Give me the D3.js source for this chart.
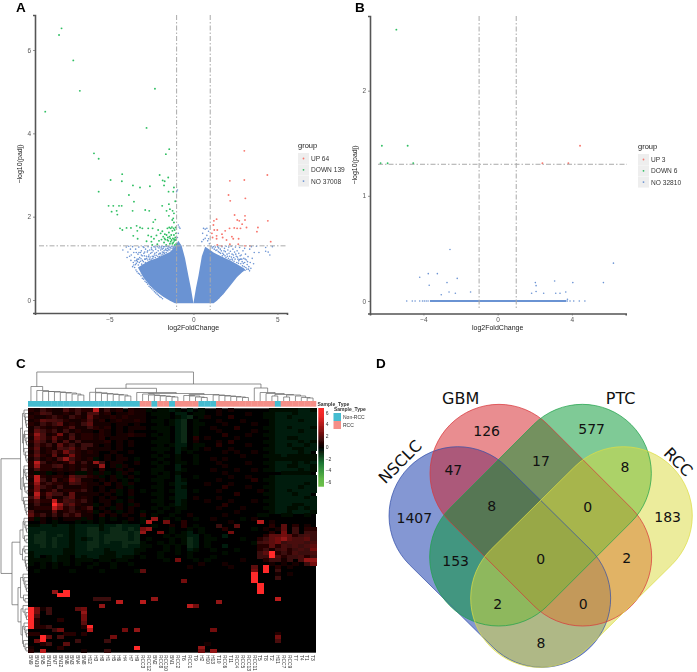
<!DOCTYPE html>
<html><head><meta charset="utf-8">
<script src="https://cdn.jsdelivr.net/npm/d3@7"></script>
<style>html,body{margin:0;padding:0;background:#fff}svg{display:block}text{font-family:"Liberation Sans",Arial,sans-serif}</style>
</head><body><svg id="c" width="697" height="672"></svg>
<script>
// ---------- volcano A ----------
const aDown=[[-7.85,6.52],[-8,6.36],[-7.15,5.75],[-6.76,5.02],[-8.82,4.52],[-2.29,5.07],[-2.79,4.13],[-1.44,3.62],[-1.64,3.5],[-5.92,3.52],[-5.64,3.39],[-4.24,3.02],[-4.93,2.88],[-4.26,2.85],[-3.6,2.75],[-3.18,2.7],[-2.59,2.73],[-2.01,3],[-1.83,2.87],[-1.71,2.85],[-1.5,2.94],[-1.75,2.75],[-1.48,2.6],[-1.2,2.6],[-1.16,2.7],[-5.64,2.6],[-3.84,2.52],[-3.54,2.36],[-3.62,2.14],[-5.05,2.26],[-4.77,2.26],[-4.43,2.26],[-4.27,2.26],[-4.87,2.12],[-4.57,2.14],[-4.53,2.05],[-2.87,2.16],[-2.63,2.14],[-1.46,2.3],[-1.08,2.37],[-1.86,2.26],[-1.6,2.14],[-1.4,2.18],[-1.24,2.14],[-1.16,2.08],[-1.46,2.02],[-1.2,1.96],[-1.26,1.92],[-1.16,1.86],[-2.27,1.93],[-2.39,1.87],[-3.38,1.78],[-4.37,1.72],[-4.23,1.68],[-3.98,1.73],[-3.72,1.73],[-3.34,1.66],[-3.18,1.74],[-3.04,1.72],[-2.69,1.72],[-2.43,1.72],[-3.58,1.54],[-3.32,1.47],[-2.69,1.55],[-2.51,1.52],[-2.35,1.47],[-2.79,1.41],[-2.5,1.4],[-2.45,1.32],[-2.2,1.55],[-2.05,1.42],[-1.95,1.6],[-1.9,1.45],[-1.85,1.65],[-1.8,1.52],[-1.75,1.38],[-1.7,1.58],[-1.68,1.45],[-1.62,1.32],[-1.55,1.72],[-1.52,1.5],[-1.5,1.42],[-1.46,1.62],[-1.44,1.74],[-1.4,1.35],[-1.38,1.48],[-1.35,1.72],[-1.32,1.56],[-1.3,1.44],[-1.28,1.75],[-1.25,1.66],[-1.22,1.48],[-1.2,1.38],[-1.18,1.72],[-1.16,1.56],[-1.14,1.42],[-1.12,1.68],[-1.1,1.32],[-1.08,1.5],[-1.06,1.74],[-1.05,1.44],[-1.04,1.6],[-1.02,1.35],[-1.55,1.44],[-1.6,1.56],[-1.72,1.48],[-2.1,1.68],[-2.15,1.34],[-1.35,1.4],[-1.25,1.35],[-1.15,1.46],[-1.42,1.52]];
const aUp=[[3.03,3.58],[4.4,3],[3.03,2.88],[2.17,2.86],[2.09,2.52],[2.19,2.38],[3.09,2.44],[2.45,2.04],[3.07,2.02],[2.61,1.92],[2.73,1.9],[3.07,1.92],[4.43,1.9],[3.84,1.74],[3.78,1.64],[4.6,1.4],[2.15,1.72],[1.89,1.66],[2.43,1.73],[2.6,1.72],[2.8,1.72],[3.16,1.74],[2.9,1.82],[1.38,1.94],[1.22,1.9],[1.19,1.8],[1.24,1.68],[1.42,1.68],[1.1,1.6],[1.14,1.5],[1.38,1.54],[1.38,1.47],[1.7,1.58],[1.74,1.5],[1.97,1.44],[2.29,1.52],[2.37,1.47],[2.69,1.47],[2.17,1.34],[1.42,1.32],[2.67,1.34],[3.07,1.3],[3.36,1.3],[1.68,1.3]];
const aNo=[[-.95,2.64],[-1,2.6],[-.9,1.8],[-.85,1.75],[-.8,1.72],[-.95,1.5],[-.9,1.6],[.6,1.72],[.7,1.7],[.8,1.72],[.9,1.65],[.55,1.6],[.6,1.45],[.7,1.48],[.9,1.47],[.95,1.35],[.5,1.4],[.8,1.55],[.85,1.42],
[-4.2,1.2],[-4,1.27],[-3.9,1.15],[-3.85,1.29],[-3.75,1.22],[-3.7,1.08],[-3.62,1.28],[-3.55,1.14],[-3.5,1.02],[-3.44,1.22],[-3.38,.95],[-3.3,1.1],[-3.25,1.27],[-3.2,1.02],[-3.15,.93],[-3.1,1.18],[-3.05,1.06],[-3,1.28],[-2.95,1.12],[-2.9,.98],[-2.85,1.22],[-2.8,1.05],[-2.75,1.15],[-2.7,1.28],[-2.65,1.08],[-2.6,1.2],[-2.55,1.12],[-2.5,1.25],[-2.45,1.05],[-2.4,1.18],[-2.35,1.28],[-2.3,1.12],[-2.25,1.22],[-2.2,1.14],[-2.15,1.28],[-2.1,1.18],[-2.05,1.25],[-2,1.12],[-1.95,1.2],[-1.9,1.29],[-1.85,1.15],[-1.8,1.24],[-1.75,1.18],[-1.7,1.28],[-1.65,1.22],[-1.6,1.29],[-1.55,1.24],[-1.5,1.28],[-3.45,.85],[-3.58,.9],[-3.72,.95],[-3.4,1.14],[-3.08,.86],[-2.86,.9],[-2.62,.98],[-2.42,1.0],[-3.28,.84],[-3.15,1.14],[-2.95,1.26],[-3.8,1.05],[-3.95,1.02],[-3.35,.98],
[-3.5,.78],[-3.42,.72],[-3.36,.68],[-3.28,.64],[-3.2,.62],[-3.12,.58],[-3.04,.52],[-2.96,.5],[-2.88,.45],[-2.8,.42],[-2.72,.38],[-2.64,.33],[-2.56,.3],[-2.48,.27],[-2.4,.24],[-2.32,.2],[-2.24,.17],[-2.16,.14],[-2.08,.11],[-2,.08],[-1.92,.06],[-1.84,.03],
[-3.62,.8],[-3.55,.84],[-3.48,.94],[-3.4,.88],[-3.33,.92],[-3.26,.98],[-3.22,.9],[-3.12,.99],[-3.04,.95],[-2.98,.92],[-2.92,1.06],[-2.84,.98],[-2.78,1.0],[-2.72,.96],[-2.68,1.04],[-2.58,1.03],[-2.52,.98],[-2.47,1.14],[-2.38,1.04],[-2.33,1.08],[-2.27,1.02],[-2.22,1.07],[-2.12,1.05],[-2.06,1.1],[-2.02,1.04],[-1.96,1.12],[-1.92,1.08],[-1.86,1.22],[-1.82,1.1],[-1.77,1.14],[-1.72,1.12],[-1.68,1.2],[-1.62,1.14],[-1.58,1.19],[-1.52,1.18],[-1.47,1.22],[-1.44,1.27],[-1.4,1.2],[-1.36,1.25],[-1.32,1.29],[-1.27,1.24],[-1.22,1.28],[-1.18,1.25],[-1.14,1.29],[-2.48,1.21],[-2.72,1.18],[-2.9,1.15],[-3.1,1.08],[-3.24,1.14],[-2.28,1.27],[-2.02,1.29],[-1.78,1.28],[-1.92,1.25],
[1.3,1.27],[1.4,1.2],[1.5,1.25],[1.6,1.22],[1.7,1.28],[1.75,1.12],[1.85,1.24],[1.9,1.16],[1.95,1.29],[2,1.1],[2.05,1.2],[2.1,1.27],[2.15,1.05],[2.2,1.17],[2.25,1.29],[2.3,1.1],[2.35,1.22],[2.4,1.02],[2.45,1.15],[2.5,1.27],[2.55,1.05],[2.6,1.18],[2.65,.98],[2.7,1.12],[2.75,1.26],[2.8,.98],[2.85,1.08],[2.9,.92],[2.95,1.18],[3,1],[3.05,.9],[3.1,1.1],[3.15,.96],[3.2,.85],[3.25,1.04],[3.3,.8],[3.05,1.24],[3.35,1.22],[3.45,1.28],[3.58,.87],[3.62,1.14],[3.75,1.29],[3.9,1.14],[4.3,1.17],[4.45,1.15],[4.55,1.08],[4.7,1.28],[4.3,1.26],[3.5,1.0],[2.3,.98],[2.7,.94],
[1.05,1.29],[1.12,1.25],[1.18,1.28],[1.24,1.22],[1.34,1.19],[1.44,1.28],[1.48,1.16],[1.55,1.14],[1.62,1.12],[1.66,1.18],[1.72,1.06],[1.8,1.09],[1.82,1.18],[1.88,1.06],[1.94,1.02],[2.02,1.05],[2.08,1.0],[2.12,1.12],[2.18,.97],[2.26,1.03],[2.32,.96],[2.38,1.08],[2.42,.93],[2.48,.98],[2.52,1.1],[2.58,.9],[2.62,1.03],[2.68,.88],[2.74,.97],[2.78,1.06],[2.82,.87],[2.88,.98],[2.92,.82],[2.97,.88],[3.02,.8],[3.08,.98],[3.12,.78],[3.18,.74],[3.22,.92],[3.28,.74],[3.34,.7],[3.38,.9],[3.42,.76],
[1.5,.05],[1.58,.1],[1.66,.12],[1.74,.15],[1.82,.2],[1.9,.24],[1.98,.28],[2.06,.33],[2.14,.37],[2.22,.42],[2.3,.47],[2.38,.5],[2.46,.56],[2.54,.6],[2.62,.62],[2.7,.65],[2.78,.7],[2.86,.71],[2.94,.7]];
const aMassLeftX=[-3.3,-3,-2.6,-2.2,-1.8,-1.4,-1.1,-.9,-.7,-.5,-.3,-.15,0];
const aMassLeftTop=[.78,.86,.95,1,1.08,1.15,1.28,1.42,1.3,1,.58,.28,-.08];
const aMassLeftLow=[.78,.55,.35,.2,.08,-.02,-.08,-.08,-.08,-.08,-.08,-.08,-.08];
const aMassRightX=[0,.15,.3,.5,.7,1,1.2,1.4,1.8,2.2,2.6,3,3.15];
const aMassRightTop=[-.08,.28,.58,1.05,1.28,1.2,1.14,1.1,1.02,.95,.86,.76,.7];
const aMassRightLow=[-.08,-.08,-.08,-.08,-.08,-.08,-.08,-.02,.15,.35,.55,.7,.7];
const aLegend=["UP 64","DOWN 139","NO 37008"];
// ---------- volcano B ----------
const bDown=[[-5.46,2.58],[-6.24,1.476],[-4.85,1.476],[-6.31,1.31],[-5.93,1.31],[-4.55,1.31]];
const bUp=[[4.44,1.476],[2.41,1.31],[3.81,1.31]];
const bNo=[[-2.57,.49],[6.24,.36],[-3.74,.26],[-3.25,.26],[-4.2,.225],[-2.18,.215],[-2.73,.175],[-3.69,.15],[-2.62,.085],[-3.04,.06],[-2.28,.073],[-1.46,.085],[3.07,.19],[2.03,.175],[2.07,.146],[4.05,.175],[5.7,.175],[1.83,.073],[2.07,.09],[2.48,.073],[3.13,.073],[3.36,.073],[3.67,.085],[3.76,.016],[-4.9,0],[-4.6,0],[-4.45,0],[-4.2,0],[-4.05,0],[-3.95,0],[-3.85,0],[-3.75,0],[3.75,0],[3.9,0],[4.1,0],[4.4,0],[4.7,0]];
const bZeroSpan=[-3.65,3.7];
const bLegend=["UP 3","DOWN 6","NO 32810"];
// ---------- heatmap ----------
const sampleLabels=["BN9","BN10","BN5","BN11","BN7","BN12","BN6","BN3","BN4","BN8","H12","H3","H8","H1","H5","H6","H4","H7","H9","RCC3","RCC12","BN2","RCC8","RCC10","BN1","RCC2","T6","RCC1","T9","H2","H10","H13","T10","RCC6","T11","RCC4","RCC5","RCC13","RCC11","T5","T8","T2","H11","RCC7","RCC9","T7","T4","T1","T3"];
const heatRows=[
"2132114232 2813120211 a.aaba.b.a ..1.1..... .aaaaabba",
"1243112131 4412.11211 .aaa.bb.aa ..1....1.. aabbbabbb",
"2112321321 5211212111 ..aa.abc.a 1...2..... aabbabbbb",
"1254432112 412.121121 .aa.abc.a. ..1...1... .abbbbabb",
"2132351213 5111.11.1. ..a.abc.aa ...1....1. .abbbbbbb",
"1321212411 3212.1.111 .aaa.bc.a. .1...2.... aabbabbba",
"1532313121 1.21.1.1.. ..aa.bc.a. ..1.....1. .abbbbabb",
"2741261312 2121.11211 .a.a.bc.a. ...2...1.. aabbbbbbb",
"1642521412 212.111... ..aa.bc.2. 1....1.... .abbaabbb",
"2531414131 1112.1.1.. .aaa.bc.1. ..1.2..... aabbbbaba",
"1423152313 31.1.1.1.. ..a.abb.aa ..2....1.. .abbabbab",
"2512143523 1111.1.... .aaa.ba.a. 1...1..... aabbbaabb",
"1412426321 21..1..1.. ..a..b.a.. ...1.1..1. .abbbbab.",
"2521512621 11.1.1.... .a.a.a..a. ......1... aaabaaaaa",
"1312147321 2a.1.11.a. ..a..a..a. .1.1...... .aaaaaaaa",
"2831212513 173.11..1. .a.a.aa.a. ..1....1.. aabbbabab",
"2722341212 117.1a1... ..a..b.... ...1...... .abbaabba",
"1422121213 1.2..1.1.. .aa..ba... .1...1..1. aabbbbaba",
"1a1a.1.1aa 1a1a.a1.a. .a.a.a.... ...1...... ...aaaaa.",
"2821221533 21a.1a.1.. ..aa.b..a. ....1..1.. .abbbbbbb",
"1831412641 1.1.1.a.a. .aa..ba... ..1.....2. aabbbbbbb",
"2723221432 11.2.1a1.. ..a.abb... 1...1..... .abbbbbab",
"1632131112 1.1..1.a.. .aa..ba... ...2...1.. aabbbbabb",
"2612412223 1.1.1a.1.a ..a.abb.a. ..1......1 .abbabbbb",
"1825331511 11.1.a.1.. .aa..bb... .....2.... aabbbabb.",
"3714113512 1.1.1..a.. ..a.abb.1. ..1....... .abbbbbab",
"2422824323 1.11.a.1.. .aa..ba... 1...1...1. aabbbbbbb",
"1311973521 1a.1.1.a1. ..a.aba... ...2...... .abbbaabb",
"1222862312 4.1.a1.1.. .a.a.aa... ..1...1... aabbaabab",
"4111512321 2a.1.a.1.a ..a..a.... .....1.... .abbabbba",
"5231313241 1.2.1.1..2 .a..a..1.. ...1.....a a..aa..a.",
"2a1.1.111a 1.a.a..1.a .7.a.a..a. .1....a.1. .........",
"..1.a...a. a.a...a..a 8..6..2... ....1....8 .1.......",
"aabbabbabb bbabbcbbb. .a..1.2.a. ..3..5.... .2.5.2.1.",
"bbbbbbbabb ccabccbcb6 7...a..a.a ...2....a. 1.15.3.22",
"bbcbbbbabb ccbbcccbc7 ..6.a.ab.a ....6..... .2.6.3.33",
"bccbbcbabb ccbccccbc. ...a.aabb. a..b...... 255652343",
"bccbcbbaba bcbccccbc. a...a.acb. aa....a..2 356754453",
"bccbcbbabb ccbcbbccca ..a.a.acb. a.......a3 456344434",
"bbcbcbbabb ccbbbbcbba a..a.a.cb. a..b.....2 252434345",
"bbbbbbaabb cbbabbbbaa ...a.a.ba. .a...a...2 313423436",
"abbbbbaabb bbbaabbba. ..a..a.a.. ...a.....3 592324334",
"ab.abaa.ba bbaaabaa.a ..a....a.. .a.......3 394233423",
"aaaabaa.aa a.aa.aa... ...a.6..a. a.....1... 23313.477",
"a.a.a.a.a. .a..a..a.. .........1 ...1...... .1.1.1.36",
"..a.a..... a...a..... .......1.. ....1...5. 9.2.1....",
".a.....a.. ..a.....a5 .......... ........6. 9.3......",
".......... .......... .......... ........9. ..1.1....",
".......... .......... .......... ........9. ..3......",
".......... .......... ......6... ........9. .........",
".......... .......... .......... .........9 .........",
".......... .......... .......... .........9 .........",
"....7.9... .......... .......... .........9 .........",
".....99... .......... .......... .......... .........",
".......... .333...... .7........ .......... ..8......",
".......... .....8...8 .......... ..7....... .........",
".......... ..7....... .......86. .......... .........",
"9613....56 .......... .......... .......... .........",
"96.3.....7 .......... .......... .......... .........",
"94.......6 .......... .......... .......... .........",
"92...2...6 .......... .......... .......... .........",
"92.......5 .......... .......... .......... .........",
"9223.....2 9......... .......... .......... .........",
"....36.... 8.....6.7. .......... .6........ .........",
"22....22.2 .......... .......... .......... ..2......",
"..95.4.... ....6..... .......... .......... ..6......",
".69.....3. ...3...... .......... .......... ..4......",
"..23..5... .......... .......... 1......... .........",
"1....2.... ........9. .........7 .......... .........",
"2.8......1 ...3...... .........6 .7........ ........."];
// value of each symbol in the strings above
const cellLevels={".":0,"1":.45,"2":.85,"3":1.25,"4":1.6,"5":2,"6":2.5,"7":3.2,"8":4.2,"9":6,a:-.3,b:-.6,c:-.95};
const heatRowsClean=heatRows.map(r=>r.replace(/ /g,""));
const heatTicks=[6,4,2,0,-2,-4,-6];
const typeLegend=["Non-RCC","RCC"];
// dendrograms: node = [height,left,right], leaf = 0
const chain=(...hs)=>hs.reduceRight((t,h)=>[h,0,t],0);
const colTree=[29,chain(14.5,10.5,9.5,9.5,9,8.5,8,7,6),[17,[12.7,chain(8.7,8.2,7.5,7,6.5,6,5),[8.5,0,[7.5,chain(7,6,5.5,5,4.5,4),[6.5,chain(5.5,5,4,3.5),chain(6,5.5,5,4.5,4,3.5)]]]],[13,0,[8.5,0,[7.5,0,[6.5,[5,0,0],[6,[4,0,0],[5,0,[3.5,0,[3,0,0]]]]]]]]]];
const rowTree=[27,[7.5,[5.5,chain(4,3,2.5,2,1.5),[4.5,chain(3.5,3,2,1.5),chain(4,2.5,2,1)]],[6,[4.5,chain(4,3,2,1.5),chain(3.5,3,1)],chain(4.5,3.5,3,2,1.5)]],[16,[8,[5,chain(4,3,2,1.5),chain(3.5,2)],[5.5,chain(4,3),chain(3,2.5,1.5,1)]],[10,[7.5,chain(5,4,3,2,1.5),chain(4.5,3)],[7,chain(5,3,2,1.5),[5.5,chain(4,3,2,1.5),chain(4.5,3,2)]]]]];
// ---------- venn ----------
const vennSets=["NSCLC","GBM","PTC","RCC"];
const vennRegions=[1407,126,577,183,47,17,8,8,0,153,0,2,2,0,8];

// ===================== drawing =====================
const svg=d3.select("#c");
const defs=svg.append("defs");
const blur=defs.append("filter").attr("id","soft").attr("filterUnits","userSpaceOnUse").attr("x",0).attr("y",0).attr("width",697).attr("height",672);
blur.append("feGaussianBlur").attr("stdDeviation",.5);
const blurT=defs.append("filter").attr("id","softT").attr("filterUnits","userSpaceOnUse").attr("x",0).attr("y",0).attr("width",697).attr("height",672);
blurT.append("feGaussianBlur").attr("stdDeviation",.25);

const COL={up:"#f8766d",down:"#2fbf62",no:"#6b93d3"};
function volcano(o){
  const g=svg.append("g").attr("filter","url(#soft)");
  const x=d3.scaleLinear().domain(o.xd).range(o.xr), y=d3.scaleLinear().domain(o.yd).range(o.yr);
  (o.mass||[]).forEach(m=>{
    g.append("path").attr("fill",COL.no).attr("d",d3.area().x(d=>x(d)).y0((d,i)=>y(m.low[i])).y1((d,i)=>y(m.top[i]))(m.x));
  });
  if(o.zero) g.append("line").attr("x1",x(o.zero[0])).attr("x2",x(o.zero[1])).attr("y1",y(0)).attr("y2",y(0)).attr("stroke",COL.no).attr("stroke-width",2);
  const dots=(data,c,r)=>g.append("g").selectAll("circle").data(data).join("circle").attr("cx",d=>x(d[0])).attr("cy",d=>y(d[1])).attr("r",r).attr("fill",c);
  dots(o.no,COL.no,.8); dots(o.down,COL.down,.95); dots(o.up,COL.up,.95);
  const dash="5 2 1.5 2";
  [-1,1].forEach(v=>g.append("line").attr("x1",x(v)).attr("x2",x(v)).attr("y1",o.vTop).attr("y2",o.vBot).attr("stroke","#aaa").attr("stroke-width",1).attr("stroke-dasharray",dash));
  g.append("line").attr("x1",o.h0).attr("x2",o.h1).attr("y1",y(1.3)).attr("y2",y(1.3)).attr("stroke","#aaa").attr("stroke-width",1).attr("stroke-dasharray",dash);
  const ax=g.append("g").attr("transform",`translate(0,${o.yr[0]})`).call(d3.axisBottom(x).tickValues(o.xt).tickSize(2).tickPadding(2).tickFormat(d=>d<0?"\u2212"+(-d):d));
  const ay=g.append("g").attr("transform",`translate(${o.xr[0]},0)`).call(d3.axisLeft(y).tickValues(o.yt).tickSize(2).tickPadding(2).tickFormat(d3.format("d")));
  [ax,ay].forEach(a=>{a.selectAll("text").attr("font-size",6.5).attr("fill","#555").attr("font-family","Liberation Sans");a.selectAll("line").attr("stroke","#666").attr("stroke-width",.7);a.select(".domain").attr("stroke","#555").attr("stroke-width",1.6);});
  g.append("text").attr("x",x(0)).attr("y",o.xlabY).attr("text-anchor","middle").attr("font-size",7).attr("fill","#222").text("log2FoldChange");
  g.append("text").attr("transform",`translate(${o.ylabX},${o.ylabY}) rotate(-90)`).attr("text-anchor","middle").attr("font-size",7).attr("fill","#222").text("\u2212log10(padj)");
  g.append("text").attr("x",o.lx).attr("y",o.ly).attr("font-size",7.5).attr("fill","#222").text("group");
  [COL.up,COL.down,COL.no].forEach((c,i)=>{
    const ky=o.ly+5+i*11.3;
    g.append("rect").attr("x",o.lx).attr("y",ky).attr("width",11).attr("height",11).attr("fill","#eee");
    g.append("circle").attr("cx",o.lx+5.5).attr("cy",ky+5.5).attr("r",.9).attr("fill",c);
    g.append("text").attr("x",o.lx+13).attr("y",ky+8).attr("font-size",6.6).attr("fill","#333").text(o.legend[i]);
  });
}
volcano({xd:[-9.43,5.57],xr:[35,287],yd:[-.312,6.84],yr:[313,15],xt:[-5,0,5],yt:[0,2,4,6],
  no:aNo,up:aUp,down:aDown,legend:aLegend,vTop:15,vBot:310,h0:39,h1:287,xlabY:330,ylabX:22,ylabY:164,lx:298,ly:148,
  mass:[{x:aMassLeftX,top:aMassLeftTop,low:aMassLeftLow},{x:aMassRightX,top:aMassRightTop,low:aMassRightLow}]});
volcano({xd:[-6.88,6.9],xr:[370,625.7],yd:[-.119,2.71],yr:[313.5,16],xt:[-4,0,4],yt:[0,1,2],
  no:bNo,up:bUp,down:bDown,legend:bLegend,vTop:16,vBot:310,h0:378,h1:627,xlabY:330,ylabX:357,ylabY:165,lx:638,ly:149,zero:bZeroSpan});

// heatmap
const hg=svg.append("g").attr("filter","url(#soft)");
const X=d3.scaleBand().domain(d3.range(sampleLabels.length)).range([28,316]);
const Y=d3.scaleBand().domain(d3.range(heatRowsClean.length)).range([408.3,652.7]);
const color=d3.scaleLinear().domain([-6,-3,0,3,6]).range(["#6cc04a","#1f8038","#000","#8a1414","#ff2b2b"]);
const cells=[];heatRowsClean.forEach((r,i)=>sampleLabels.forEach((s,j)=>cells.push({i,j,v:cellLevels[r[j]]||0})));
hg.append("rect").attr("x",28).attr("y",408.3).attr("width",288).attr("height",244.4).attr("fill","#000");
hg.append("g").attr("shape-rendering","crispEdges").selectAll("rect").data(cells.filter(d=>d.v!==0)).join("rect").attr("x",d=>X(d.j)).attr("y",d=>Y(d.i)).attr("width",X.bandwidth()+.5).attr("height",Y.bandwidth()+.5).attr("fill",d=>color(d.v));
const isRCC=s=>/^(RCC|T)/.test(s);
const ANN={n:"#45bcd0",r:"#f58f88"};
hg.append("g").selectAll("rect").data(sampleLabels).join("rect").attr("x",(d,i)=>X(i)).attr("y",401).attr("width",X.bandwidth()+.3).attr("height",5.7).attr("fill",d=>isRCC(d)?ANN.r:ANN.n);
hg.append("g").selectAll("text").data(sampleLabels).join("text").attr("transform",(d,i)=>`translate(${X(i)+X.bandwidth()/2-1.7},655) rotate(90)`).attr("font-size",4.9).attr("fill","#333").text(d=>d);
function layout(node,scaleP,segs,state){
  if(node===0){const p=scaleP(state.k++);return {p,h:0};}
  const a=layout(node[1],scaleP,segs,state),b=layout(node[2],scaleP,segs,state),h=node[0];
  segs.push({a,b,h});
  return {p:(a.p+b.p)/2,h};
}
const colSegs=[];layout(colTree,k=>X(k)+X.bandwidth()/2,colSegs,{k:0});
const colH=d3.scaleLinear().domain([0,29]).range([401,372]);
const rowSegs=[];layout(rowTree,k=>Y(k)+Y.bandwidth()/2,rowSegs,{k:0});
const rowH=d3.scaleLinear().domain([0,27]).range([28,1]);
hg.append("g").selectAll("path").data(colSegs).join("path").attr("fill","none").attr("stroke","#666").attr("stroke-width",.7)
  .attr("d",s=>`M${s.a.p},${colH(s.a.h)}V${colH(s.h)}H${s.b.p}V${colH(s.b.h)}`);
hg.append("g").selectAll("path").data(rowSegs).join("path").attr("fill","none").attr("stroke","#666").attr("stroke-width",.7)
  .attr("d",s=>`M${rowH(s.a.h)},${s.a.p}H${rowH(s.h)}V${s.b.p}H${rowH(s.b.h)}`);
hg.append("text").attr("x",317.5).attr("y",406).attr("font-size",5).attr("font-weight","bold").attr("fill","#333").text("Sample_Type");
const grad=defs.append("linearGradient").attr("id","cb").attr("x1",0).attr("x2",0).attr("y1",0).attr("y2",1);
d3.range(0,1.001,.1).forEach(t=>grad.append("stop").attr("offset",t).attr("stop-color",color(Math.max(-6,Math.min(6,6.9-13.8*t)))));
const cbY=d3.scaleLinear().domain([6,-6]).range([412.7,482]);
hg.append("rect").attr("x",318.3).attr("y",408).attr("width",5.7).attr("height",78.7).attr("fill","url(#cb)");
hg.append("g").selectAll("text").data(heatTicks).join("text").attr("x",325.7).attr("y",d=>cbY(d)+1.8).attr("font-size",5).attr("fill","#333").text(d=>d<0?"\u2212"+(-d):d);
hg.append("text").attr("x",334).attr("y",411).attr("font-size",5).attr("font-weight","bold").attr("fill","#333").text("Sample_Type");
typeLegend.forEach((t,i)=>{
  hg.append("rect").attr("x",333.5).attr("y",413+i*8).attr("width",7.5).attr("height",8).attr("fill",i?ANN.r:ANN.n);
  hg.append("text").attr("x",343).attr("y",419+i*8).attr("font-size",5).attr("fill","#333").text(t);
});

// venn
const vg=svg.append("g");
const VX=v=>370+v/3, VY=v=>350+v/3, VR=207/3;
const caps=[{a:[264,497],b:[515,745],c:"#0a30a8",s:"#3450a8"},{a:[387,370],b:[638,621],c:"#d31c22",s:"#d8363a"},{a:[637,370],b:[386,621],c:"#00952d",s:"#1fa24a"},{a:[760,497],b:[509,745],c:"#d9d93a",s:"#dddd44"}];
caps.forEach(d=>{
  vg.append("line").attr("x1",VX(d.a[0])).attr("y1",VY(d.a[1])).attr("x2",VX(d.b[0])).attr("y2",VY(d.b[1])).attr("stroke",d.c).attr("stroke-opacity",.5).attr("stroke-width",VR*2).attr("stroke-linecap","round");
});
caps.forEach(d=>{
  const dx=VX(d.b[0])-VX(d.a[0]),dy=VY(d.b[1])-VY(d.a[1]),L=Math.hypot(dx,dy),nx=-dy/L*VR,ny=dx/L*VR;
  const ax=VX(d.a[0]),ay=VY(d.a[1]),bx=VX(d.b[0]),by=VY(d.b[1]);
  vg.append("path").attr("fill","none").attr("stroke",d.s).attr("stroke-width",.8).attr("stroke-opacity",.9)
    .attr("d",`M${ax+nx},${ay+ny}L${bx+nx},${by+ny}A${VR},${VR} 0 0 0 ${bx-nx},${by-ny}L${ax-nx},${ay-ny}A${VR},${VR} 0 0 0 ${ax+nx},${ay+ny}Z`);
});
const regionPos=[[133,503],[350,243],[665,238],[893,502],[250,360],[513,333],[765,352],[365,468],[653,472],[257,632],[512,627],[770,625],[383,762],[640,762],[513,880]];
vg.selectAll("text.n").data(vennRegions).join("text").attr("class","n").attr("x",(d,i)=>VX(regionPos[i][0])).attr("y",(d,i)=>VY(regionPos[i][1])+5).attr("text-anchor","middle").attr("font-size",14).attr("fill","#111").style("font-family","DejaVu Sans").text(d=>d);
const setPos=[[90,335,-45],[272,145,0],[752,145,0],[925,335,45]];
vennSets.forEach((s,i)=>{
  vg.append("text").attr("transform",`translate(${VX(setPos[i][0])},${VY(setPos[i][1])}) rotate(${setPos[i][2]})`).attr("text-anchor","middle").attr("dy","0.36em").attr("font-size",16).attr("fill","#111").style("font-family","DejaVu Sans").text(s);
});
// panel letters
[["A",16,12],["B",355,12],["C",16,368],["D",376,368]].forEach(p=>svg.append("text").attr("x",p[1]).attr("y",p[2]).attr("font-size",13.5).attr("font-weight","bold").attr("fill","#000").attr("filter","url(#softT)").text(p[0]));
</script></body></html>
